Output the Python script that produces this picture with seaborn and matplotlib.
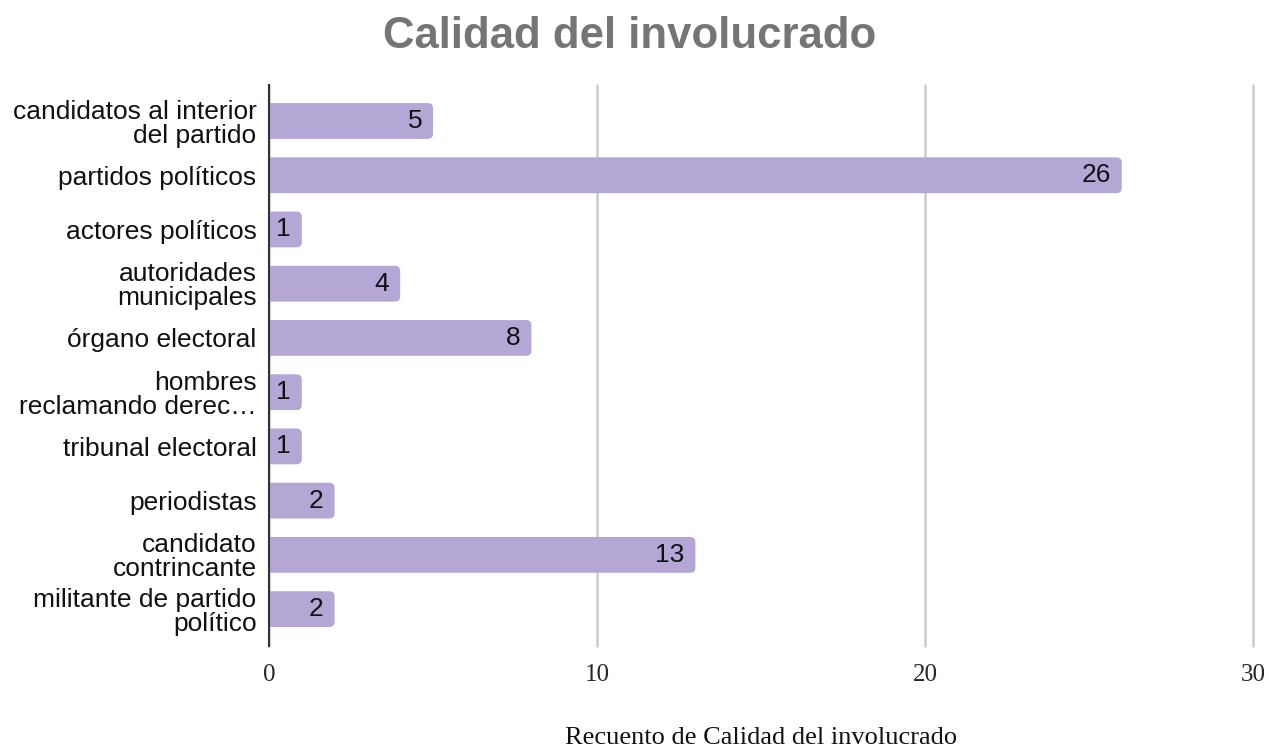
import matplotlib
matplotlib.use("Agg")
import matplotlib.pyplot as plt
from matplotlib.patches import FancyBboxPatch
import seaborn as sns
import pandas as pd

categories = [
    "candidatos al interior\ndel partido",
    "partidos políticos",
    "actores políticos",
    "autoridades\nmunicipales",
    "órgano electoral",
    "hombres\nreclamando derec…",
    "tribunal electoral",
    "periodistas",
    "candidato\ncontrincante",
    "militante de partido\npolítico",
]
counts = [5, 26, 1, 4, 8, 1, 1, 2, 13, 2]
xticks = [0, 10, 20, 30]

title = "Calidad del involucrado"
xlabel = "Recuento de Calidad del involucrado"

sns.set_theme(style="white")
plt.rcParams['font.family'] = ['Liberation Sans', 'DejaVu Sans']

df = pd.DataFrame({"cat": categories, "n": counts})

fig = plt.figure(figsize=(12.69, 7.5), dpi=100)
ax = fig.add_axes([269/1269, 1-646/750, (1253-269)/1269, (646-85)/750])

bar_color = "#b4a7d6"
sns.barplot(data=df, y="cat", x="n", orient="h", color=bar_color,
            saturation=1, width=0.66, ax=ax, zorder=3, linewidth=0)

# replace bars with slightly rounded ones
rs = 0.16
aspect = 32.8 / 54.2
for p in list(ax.patches):
    x, y, w, h = p.get_x(), p.get_y(), p.get_width(), p.get_height()
    p.set_visible(False)
    fb = FancyBboxPatch((x - rs, y), w + rs, h,
                        boxstyle=f"round,pad=0,rounding_size={rs}",
                        mutation_aspect=aspect, facecolor=bar_color,
                        edgecolor="none", zorder=3)
    ax.add_patch(fb)

ax.set_xlim(0, 30)
ax.set_ylim(9.68, -0.664)
ax.set_xticks(xticks)
ax.set_xticklabels([str(t) for t in xticks], family=['Liberation Serif'], fontsize=18)
ax.tick_params(axis='x', length=0, pad=13)
ax.tick_params(axis='y', length=0, pad=9, labelsize=19, labelcolor="#111111")
for lbl in ax.get_yticklabels():
    lbl.set_linespacing(1.0)

ax.grid(axis='x', color="#cccccc", linewidth=1.8, zorder=0)
for gl in ax.get_xgridlines():
    gl.set_clip_on(False)
for s in ["top", "right", "bottom"]:
    ax.spines[s].set_visible(False)
ax.spines["left"].set_color("#333333")
ax.spines["left"].set_linewidth(1.5)
ax.spines["left"].set_zorder(5)

for i, v in enumerate(counts):
    ax.text(v - 0.33, i, str(v), ha="right", va="center", fontsize=19, color="#111111", zorder=6)

ax.set_ylabel("")
ax.set_xlabel("")
fig.text(761/1269, 1-738/750, xlabel, ha="center", va="center",
         family=['Liberation Serif'], fontsize=19, color="#111111")

fig.text(630/1269, 1-37/750, title, ha="center", va="center", fontsize=31.5,
         fontweight="bold", color="#757575")

fig.savefig("out.png", dpi=100)
